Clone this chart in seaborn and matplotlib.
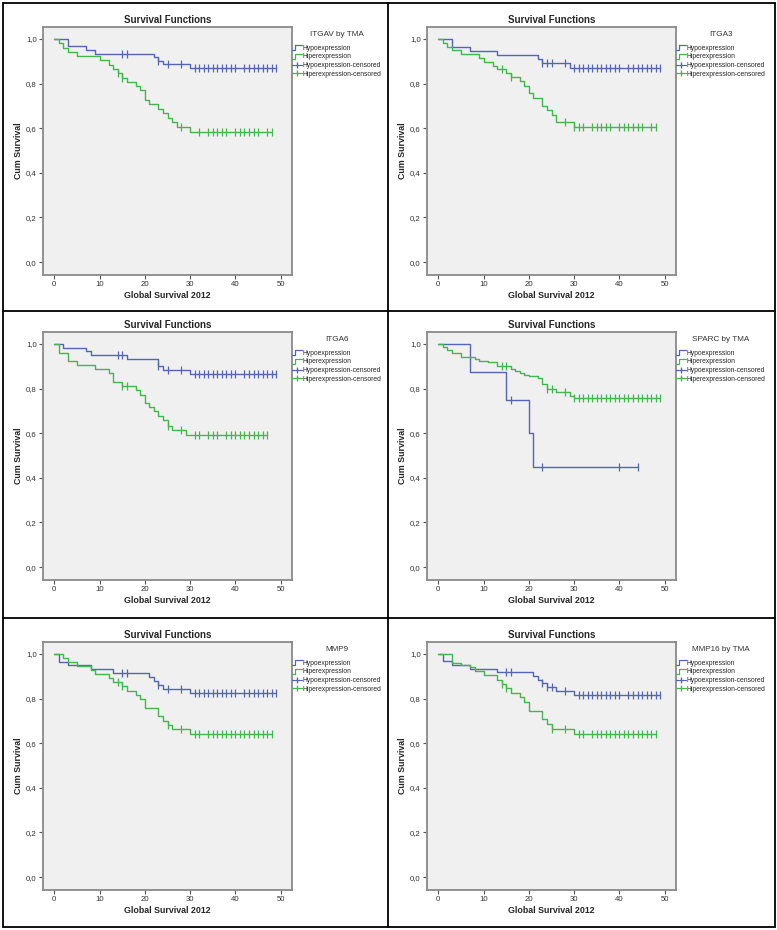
import numpy as np
import pandas as pd
import seaborn as sns
import matplotlib.pyplot as plt
from matplotlib.lines import Line2D
from matplotlib.legend_handler import HandlerBase

# Kaplan-Meier curves read off the SPSS output: event times, survival after the
# event, and the censored times (months)
ITGAV_HYPO_T = [0, 3, 7, 9, 22, 23, 24, 30]
ITGAV_HYPO_S = [1.0, 0.968, 0.952, 0.935, 0.919, 0.903, 0.887, 0.868]
ITGAV_HYPO_C = [15, 16, 23, 25, 28, 31, 32, 33, 34, 35, 36, 37, 38, 39, 40, 42, 43, 44, 45, 46, 47, 48, 49]
ITGAV_HIPER_T = [0, 1, 2, 3, 5, 10, 12, 13, 14, 15, 16, 18, 19, 20, 21, 23, 24, 25, 26, 27, 30]
ITGAV_HIPER_S = [1.0, 0.981, 0.962, 0.944, 0.925, 0.905, 0.885, 0.865, 0.846, 0.827, 0.808, 0.789,
                 0.770, 0.726, 0.707, 0.687, 0.668, 0.647, 0.626, 0.606, 0.584]
ITGAV_HIPER_C = [14, 15, 28, 32, 34, 35, 36, 37, 38, 40, 41, 42, 43, 44, 45, 47, 48]

ITGA3_HYPO_T = [0, 3, 7, 13, 22, 23, 29]
ITGA3_HYPO_S = [1.0, 0.965, 0.946, 0.928, 0.910, 0.891, 0.871]
ITGA3_HYPO_C = [23, 24, 25, 28, 30, 31, 32, 33, 34, 35, 36, 37, 38, 39, 40, 42, 43, 44, 45, 46, 47, 48, 49]
ITGA3_HIPER_T = [0, 1, 2, 3, 5, 9, 10, 12, 13, 15, 16, 18, 19, 20, 21, 23, 24, 25, 26, 30]
ITGA3_HIPER_S = [1.0, 0.983, 0.966, 0.949, 0.932, 0.915, 0.898, 0.881, 0.864, 0.847, 0.830, 0.813,
                 0.789, 0.756, 0.737, 0.700, 0.680, 0.660, 0.626, 0.605]
ITGA3_HIPER_C = [14, 16, 28, 30, 31, 32, 34, 35, 36, 37, 38, 40, 41, 42, 43, 44, 45, 47, 48]

ITGA6_HYPO_T = [0, 2, 7, 8, 16, 23, 24, 30]
ITGA6_HYPO_S = [1.0, 0.984, 0.967, 0.950, 0.933, 0.901, 0.883, 0.865]
ITGA6_HYPO_C = [14, 15, 23, 25, 28, 31, 32, 33, 34, 35, 36, 37, 38, 39, 40, 42, 43, 44, 45, 46, 47, 48, 49]
ITGA6_HIPER_T = [0, 1, 3, 5, 9, 12, 13, 15, 18, 19, 20, 21, 22, 23, 24, 25, 26, 29]
ITGA6_HIPER_S = [1.0, 0.962, 0.925, 0.906, 0.887, 0.868, 0.830, 0.811, 0.792, 0.773, 0.736, 0.717,
                 0.698, 0.679, 0.660, 0.632, 0.613, 0.591]
ITGA6_HIPER_C = [15, 16, 25, 28, 31, 32, 34, 35, 36, 38, 39, 40, 41, 42, 43, 44, 45, 46, 47]

SPARC_HYPO_T = [0, 7, 15, 20, 21]
SPARC_HYPO_S = [1.0, 0.875, 0.75, 0.60, 0.45]
SPARC_HYPO_C = [16, 23, 40, 44]
SPARC_HIPER_T = [0, 1, 2, 3, 5, 8, 9, 11, 13, 16, 17, 18, 19, 20, 22, 23, 24, 26, 29, 30]
SPARC_HIPER_S = [1.0, 0.988, 0.975, 0.960, 0.944, 0.934, 0.926, 0.918, 0.900, 0.888, 0.880, 0.870,
                 0.863, 0.855, 0.846, 0.820, 0.798, 0.783, 0.768, 0.757]
SPARC_HIPER_C = [14, 15, 24, 25, 28, 30, 31, 32, 33, 34, 35, 36, 37, 38, 39, 40, 41, 42, 43, 44,
                 45, 46, 47, 48, 49]

MMP9_HYPO_T = [0, 1, 3, 8, 13, 21, 22, 23, 24, 30]
MMP9_HYPO_S = [1.0, 0.966, 0.949, 0.932, 0.915, 0.898, 0.880, 0.862, 0.845, 0.826]
MMP9_HYPO_C = [15, 16, 23, 25, 28, 31, 32, 33, 34, 35, 36, 37, 38, 39, 40, 42, 43, 44, 45, 46, 47, 48, 49]
MMP9_HIPER_T = [0, 2, 3, 5, 8, 9, 12, 13, 15, 16, 18, 19, 20, 23, 24, 25, 26, 30]
MMP9_HIPER_S = [1.0, 0.982, 0.964, 0.946, 0.928, 0.910, 0.891, 0.873, 0.855, 0.836, 0.818, 0.800,
                0.760, 0.720, 0.701, 0.683, 0.663, 0.642]
MMP9_HIPER_C = [14, 15, 25, 28, 31, 32, 34, 35, 36, 37, 38, 39, 40, 41, 42, 43, 44, 45, 46, 47, 48]

MMP16_HYPO_T = [0, 1, 3, 7, 13, 21, 22, 23, 24, 26, 30]
MMP16_HYPO_S = [1.0, 0.968, 0.952, 0.935, 0.918, 0.901, 0.885, 0.868, 0.851, 0.834, 0.816]
MMP16_HYPO_C = [15, 16, 23, 24, 25, 28, 31, 32, 33, 34, 35, 36, 37, 38, 39, 40, 42, 43, 44, 45,
                46, 47, 48, 49]
MMP16_HIPER_T = [0, 3, 5, 7, 8, 10, 13, 14, 15, 16, 18, 19, 20, 23, 24, 25, 30]
MMP16_HIPER_S = [1.0, 0.962, 0.950, 0.940, 0.925, 0.905, 0.885, 0.865, 0.846, 0.827, 0.808, 0.786,
                 0.745, 0.708, 0.686, 0.665, 0.643]
MMP16_HIPER_C = [14, 15, 25, 28, 31, 32, 34, 35, 36, 37, 38, 39, 40, 41, 42, 43, 44, 45, 46, 47, 48]

PANELS = [
    ('ITGAV by TMA', (ITGAV_HYPO_T, ITGAV_HYPO_S, ITGAV_HYPO_C), (ITGAV_HIPER_T, ITGAV_HIPER_S, ITGAV_HIPER_C)),
    ('ITGA3', (ITGA3_HYPO_T, ITGA3_HYPO_S, ITGA3_HYPO_C), (ITGA3_HIPER_T, ITGA3_HIPER_S, ITGA3_HIPER_C)),
    ('ITGA6', (ITGA6_HYPO_T, ITGA6_HYPO_S, ITGA6_HYPO_C), (ITGA6_HIPER_T, ITGA6_HIPER_S, ITGA6_HIPER_C)),
    ('SPARC by TMA', (SPARC_HYPO_T, SPARC_HYPO_S, SPARC_HYPO_C), (SPARC_HIPER_T, SPARC_HIPER_S, SPARC_HIPER_C)),
    ('MMP9', (MMP9_HYPO_T, MMP9_HYPO_S, MMP9_HYPO_C), (MMP9_HIPER_T, MMP9_HIPER_S, MMP9_HIPER_C)),
    ('MMP16 by TMA', (MMP16_HYPO_T, MMP16_HYPO_S, MMP16_HYPO_C), (MMP16_HIPER_T, MMP16_HIPER_S, MMP16_HIPER_C)),
]
GROUPS = ['Hypoexpression', 'Hiperexpression']
COLORS = ['#5365b3', '#43b64d']
Y_TICKS = [0.0, 0.2, 0.4, 0.6, 0.8, 1.0]
X_TICKS = [0, 10, 20, 30, 40, 50]

W, H = 777, 930


class StepHandler(HandlerBase):
    def create_artists(self, legend, orig_handle, xdescent, ydescent, width, height, fontsize, trans):
        x0 = -xdescent
        y0 = -ydescent
        xs = [x0, x0 + 0.3 * width, x0 + 0.3 * width, x0 + width]
        ys = [y0 - 0.1 * height, y0 - 0.1 * height, y0 + 0.9 * height, y0 + 0.9 * height]
        ln = Line2D(xs, ys, color=orig_handle.get_color(), lw=orig_handle.get_linewidth())
        ln.set_transform(trans)
        return [ln]


sns.set_theme(style='white')
plt.rcParams['font.family'] = ['Liberation Sans', 'DejaVu Sans']

fig = plt.figure(figsize=(W / 100, H / 100), dpi=100)
fig.patch.set_facecolor('white')

col_left = [43, 427]
row_top = [27, 332, 642]
ax_w, ax_h = 249, 248

for k, (gene, hypo, hiper) in enumerate(PANELS):
    r, c = divmod(k, 2)
    left = col_left[c] / W
    bottom = 1 - (row_top[r] + ax_h) / H
    ax = fig.add_axes([left, bottom, ax_w / W, ax_h / H])
    ax.set_facecolor('#f0f0f0')

    for (t, s, cens), color in zip((hypo, hiper), COLORS):
        t = np.asarray(t, float)
        s = np.asarray(s, float)
        cens = np.asarray(cens, float)
        end = cens.max() if len(cens) else t.max()
        line_df = pd.DataFrame({'time': np.append(t, end), 'surv': np.append(s, s[-1])})
        sns.lineplot(data=line_df, x='time', y='surv', estimator=None, sort=False,
                     drawstyle='steps-post', color=color, lw=1.0, ax=ax)
        cens_df = pd.DataFrame({'time': cens,
                                'surv': s[np.searchsorted(t, cens, side='right') - 1]})
        sns.scatterplot(data=cens_df, x='time', y='surv', marker='|', s=30,
                        color=color, linewidth=0.9, ax=ax, zorder=3)

    ax.set_xlim(-2.5, 52.5)
    ax.set_ylim(-0.058, 1.054)
    ax.set_xticks(X_TICKS)
    ax.set_yticks(Y_TICKS)
    ax.set_yticklabels([f'{v:.1f}'.replace('.', ',') for v in Y_TICKS])
    ax.tick_params(axis='both', which='major', length=3, width=0.8, color='#555555',
                   labelsize=5.6, labelcolor='#333333', pad=1.5, bottom=True, left=True)
    for sp in ax.spines.values():
        sp.set_color('#8a8a8a')
        sp.set_linewidth(1.3)

    ax.set_title('Survival Functions', fontsize=7, fontweight='bold', pad=3)
    ax.set_xlabel('Global Survival 2012', fontsize=6.4, fontweight='bold')
    ax.set_ylabel('Cum Survival', fontsize=6.4, fontweight='bold')
    ax.xaxis.set_label_coords(0.5, -0.065)
    ax.yaxis.set_label_coords(-0.08, 0.5)

    handles = [Line2D([], [], color=COLORS[0], lw=0.9),
               Line2D([], [], color=COLORS[1], lw=0.9),
               Line2D([], [], color=COLORS[0], lw=0.9, marker='|', markersize=5),
               Line2D([], [], color=COLORS[1], lw=0.9, marker='|', markersize=5)]
    labels = [GROUPS[0], GROUPS[1], GROUPS[0] + '-censored', GROUPS[1] + '-censored']
    leg = ax.legend(handles, labels, title=gene, loc='upper left', bbox_to_anchor=(1.0, 0.985),
                    frameon=False, fontsize=4.9, title_fontsize=5.9, borderpad=0,
                    borderaxespad=0, handlelength=1.4, handletextpad=0.15, labelspacing=0.25,
                    handler_map={handles[0]: StepHandler(), handles[1]: StepHandler()})
    leg.get_title().set_color('#333333')
    leg._legend_box.sep = 5

# panel frames
for x in [3, 388, 775]:
    fig.add_artist(Line2D([x / W, x / W], [1 - 3 / H, 1 - 927 / H], color='black', lw=1.3))
for y in [3, 311, 618, 927]:
    fig.add_artist(Line2D([3 / W, 775 / W], [1 - y / H, 1 - y / H], color='black', lw=1.3))

fig.savefig('out.png', dpi=100, facecolor='white')
